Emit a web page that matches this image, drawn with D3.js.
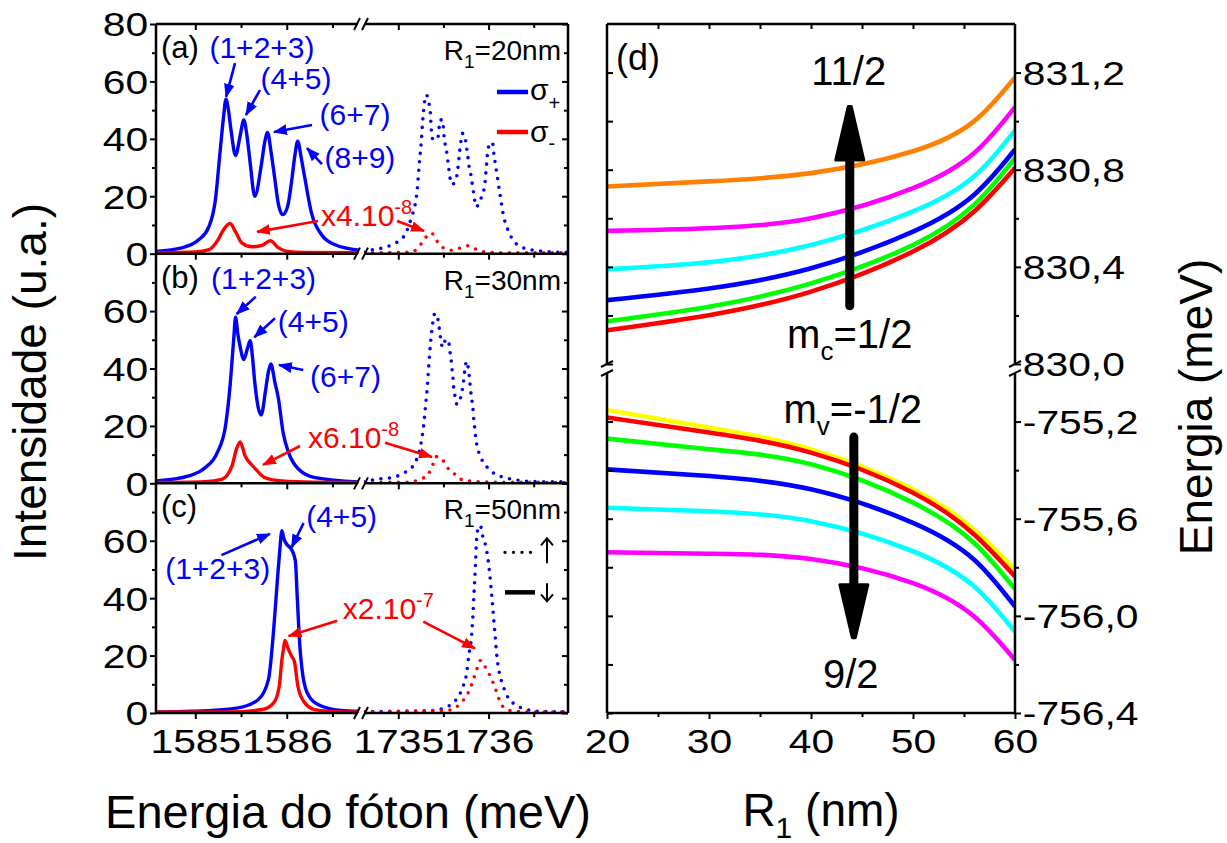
<!DOCTYPE html>
<html>
<head>
<meta charset="utf-8">
<script src="https://cdn.jsdelivr.net/npm/d3@7"></script>
<style>
  body { margin: 0; background: #fff; }
  svg text { font-family: "Liberation Sans", Arial, Helvetica, sans-serif; }
</style>
</head>
<body>
<svg id="chart" width="1227" height="843"></svg>
<script>
// ---------- spectra: [photon energy (meV), intensity (a.u.)] ----------
// solid = spin down (~1585 meV), dotted = spin up (~1735 meV)

// (a) R1 = 20 nm
const aSigPlusDown = [[1584.57,0.8],[1584.85,2.0],[1585.04,4.9],[1585.15,9.5],[1585.22,18.9],[1585.27,35.2],[1585.31,48.0],[1585.335,53.8],[1585.36,50.5],[1585.39,43.2],[1585.44,34.2],[1585.49,41.0],[1585.53,46.6],[1585.565,41.0],[1585.60,31.6],[1585.65,20.0],[1585.725,31.6],[1585.76,39.0],[1585.79,42.2],[1585.83,35.0],[1585.87,25.9],[1585.91,17.0],[1585.956,13.6],[1586.01,16.5],[1586.055,25.7],[1586.09,34.5],[1586.12,39.2],[1586.16,33.0],[1586.20,25.9],[1586.27,14.2],[1586.38,6.6],[1586.53,3.1],[1586.79,1.2]];
const aSigMinusDown = [[1584.57,0.3],[1585.0,0.6],[1585.15,1.4],[1585.25,4.9],[1585.31,8.4],[1585.38,10.5],[1585.44,7.6],[1585.51,3.7],[1585.62,2.4],[1585.73,2.9],[1585.82,4.5],[1585.91,2.0],[1586.01,0.8],[1586.2,0.4],[1586.79,0.3]];
const aSigPlusUp = [[1734.62,0.6],[1734.72,1.4],[1734.83,2.0],[1734.93,3.1],[1735.0,4.3],[1735.08,7.0],[1735.15,13.0],[1735.19,17.7],[1735.21,22.4],[1735.23,30.5],[1735.255,39.2],[1735.27,46.2],[1735.29,52.6],[1735.31,55.3],[1735.34,52.4],[1735.355,49.1],[1735.365,43.3],[1735.384,39.8],[1735.435,40.0],[1735.465,46.6],[1735.49,46.6],[1735.51,39.8],[1735.53,36.6],[1735.557,30.3],[1735.57,27.0],[1735.595,24.1],[1735.64,25.9],[1735.657,29.0],[1735.68,35.7],[1735.694,39.2],[1735.71,41.9],[1735.74,41.2],[1735.75,38.1],[1735.767,34.9],[1735.779,31.4],[1735.80,28.2],[1735.817,24.7],[1735.834,21.2],[1735.864,16.3],[1735.91,18.9],[1735.945,21.8],[1735.963,25.3],[1735.98,32.3],[1736.01,38.1],[1736.044,38.7],[1736.055,35.7],[1736.07,32.3],[1736.09,28.2],[1736.13,20.0],[1736.17,12.5],[1736.20,9.5],[1736.28,4.3],[1736.35,2.6],[1736.50,1.2],[1736.80,0.5],[1736.88,0.5]];
const aSigMinusUp = [[1734.62,0.3],[1735.0,0.4],[1735.13,0.5],[1735.22,2.0],[1735.29,5.1],[1735.365,7.2],[1735.43,4.3],[1735.50,2.0],[1735.60,1.2],[1735.69,2.0],[1735.78,2.8],[1735.88,1.2],[1735.98,0.5],[1736.2,0.3],[1736.88,0.3]];

// (b) R1 = 30 nm
const bSigPlusDown = [[1584.57,0.8],[1584.93,2.6],[1585.11,5.5],[1585.24,10.7],[1585.33,20.0],[1585.38,34.0],[1585.42,50.3],[1585.44,57.9],[1585.465,52.0],[1585.49,47.6],[1585.53,43.1],[1585.57,47.0],[1585.60,49.7],[1585.625,44.0],[1585.65,35.2],[1585.72,23.8],[1585.77,32.8],[1585.80,39.0],[1585.826,41.6],[1585.87,35.2],[1585.91,29.3],[1585.96,17.7],[1586.02,10.7],[1586.13,4.9],[1586.31,2.0],[1586.79,0.5]];
const bSigMinusDown = [[1584.57,0.3],[1585.1,0.6],[1585.29,1.4],[1585.40,6.0],[1585.45,11.9],[1585.49,14.4],[1585.545,9.5],[1585.62,6.3],[1585.67,4.6],[1585.76,2.0],[1585.95,0.8],[1586.3,0.4],[1586.79,0.3]];
const bSigPlusUp = [[1734.62,0.5],[1734.75,1.4],[1734.93,2.0],[1735.03,3.1],[1735.11,4.6],[1735.19,7.4],[1735.25,13.6],[1735.28,20.0],[1735.30,26.4],[1735.32,33.1],[1735.335,39.8],[1735.35,46.3],[1735.37,52.9],[1735.406,59.2],[1735.44,57.0],[1735.455,53.7],[1735.47,50.3],[1735.49,47.4],[1735.52,49.7],[1735.556,50.0],[1735.568,46.8],[1735.583,43.6],[1735.594,40.2],[1735.605,36.9],[1735.612,33.8],[1735.627,30.5],[1735.65,27.5],[1735.69,29.8],[1735.712,33.1],[1735.726,36.4],[1735.737,39.6],[1735.76,42.5],[1735.778,39.5],[1735.79,36.1],[1735.80,32.8],[1735.812,29.6],[1735.826,26.4],[1735.834,22.9],[1735.845,19.8],[1735.856,16.5],[1735.87,13.4],[1735.90,10.1],[1735.94,7.4],[1736.0,5.1],[1736.08,3.1],[1736.18,2.0],[1736.27,1.4],[1736.49,0.6],[1736.88,0.5]];
const bSigMinusUp = [[1734.62,0.3],[1735.1,0.4],[1735.24,1.4],[1735.33,3.1],[1735.38,6.3],[1735.42,9.3],[1735.48,8.6],[1735.53,6.0],[1735.61,3.7],[1735.68,1.6],[1735.78,0.8],[1736.0,0.4],[1736.88,0.3]];

// (c) R1 = 50 nm
const cSigPlusDown = [[1584.57,0.35],[1584.96,0.6],[1585.45,1.7],[1585.69,4.7],[1585.80,11.7],[1585.857,29.1],[1585.898,46.6],[1585.922,56.0],[1585.947,63.5],[1585.97,60.5],[1586.00,58.8],[1586.04,57.5],[1586.06,56.5],[1586.094,53.0],[1586.114,40.8],[1586.143,23.3],[1586.163,16.3],[1586.224,7.0],[1586.347,2.9],[1586.59,0.9],[1586.79,0.6]];
const cSigMinusDown = [[1584.57,0.35],[1585.37,0.35],[1585.735,1.2],[1585.857,3.5],[1585.918,9.3],[1585.947,18.6],[1585.963,22.1],[1585.98,25.3],[1586.012,22.7],[1586.053,19.8],[1586.082,18.1],[1586.122,9.3],[1586.184,4.1],[1586.306,1.2],[1586.6,0.4],[1586.79,0.35]];
const cSigPlusUp = [[1734.62,0.5],[1735.35,0.8],[1735.527,2.0],[1735.637,4.5],[1735.709,8.6],[1735.757,13.9],[1735.782,20.3],[1735.811,26.7],[1735.826,33.6],[1735.836,40.1],[1735.847,46.5],[1735.857,53.5],[1735.865,59.3],[1735.873,62.8],[1735.91,65.3],[1735.93,62.2],[1735.964,58.7],[1735.983,55.8],[1736.019,46.5],[1736.037,40.1],[1736.055,33.6],[1736.073,26.7],[1736.092,19.7],[1736.12,13.9],[1736.157,9.8],[1736.20,6.3],[1736.273,3.4],[1736.382,1.6],[1736.60,0.5],[1736.88,0.4]];
const cSigMinusUp = [[1734.62,0.3],[1735.56,1.0],[1735.69,3.4],[1735.78,7.4],[1735.83,11.5],[1735.87,15.3],[1735.91,18.3],[1735.96,16.2],[1736.02,12.7],[1736.06,9.8],[1736.10,6.3],[1736.13,3.6],[1736.22,1.0],[1736.40,0.4],[1736.88,0.3]];

// ---------- (d) levels vs. R1 ----------
const radiusNm = [20, 30, 40, 50, 56, 60];
// conduction band, m_c = 1/2 ... 11/2 (meV)
const cond_1_2  = [830.139, 830.201, 830.298, 830.463, 830.628, 830.807];
const cond_3_2  = [830.176, 830.236, 830.332, 830.490, 830.656, 830.848];
const cond_5_2  = [830.263, 830.311, 830.394, 830.545, 830.697, 830.883];
const cond_7_2  = [830.390, 830.419, 830.490, 830.628, 830.773, 830.962];
const cond_9_2  = [830.548, 830.559, 830.600, 830.724, 830.869, 831.058];
const cond_11_2 = [830.731, 830.752, 830.786, 830.876, 831.000, 831.180];
// valence band, m_v = -1/2 ... 9/2 (meV)
const val_m1_2 = [-755.152, -755.224, -755.314, -755.479, -755.645, -755.810];
const val_1_2  = [-755.183, -755.245, -755.328, -755.493, -755.665, -755.838];
const val_3_2  = [-755.270, -755.314, -755.376, -755.534, -755.700, -755.890];
const val_5_2  = [-755.397, -755.424, -755.479, -755.617, -755.769, -755.962];
const val_7_2  = [-755.555, -755.569, -755.610, -755.734, -755.879, -756.065];
const val_9_2  = [-755.738, -755.744, -755.766, -755.865, -756.003, -756.182];

// ---------- axis settings ----------
const loDomain = [1584.57, 1586.79];
const hiDomain = [1734.62, 1736.88];
const loTicks = [1585, 1586], loMinor = [1585.5, 1586.5];
const hiTicks = [1735, 1736], hiMinor = [1735.5, 1736.5];
const intensityDomain = [0, 80];
const rDomain = [20, 60];
const rTicks = [20, 30, 40, 50, 60], rMinor = [25, 35, 45, 55];
const condDomain = [830.0, 831.4];
const valDomain = [-756.4, -755.0];
const condTicks = [830.0, 830.4, 830.8, 831.2], condMinor = [830.2, 830.6, 831.0];
const valTicks = [-756.4, -756.0, -755.6, -755.2], valMinor = [-756.2, -755.8, -755.4];

const BLUE = "#0000ff", RED = "#ff0000", BLACK = "#000";

// ---------- geometry ----------
const svg = d3.select("#chart");
const defs = svg.append("defs");
const LX0 = 156, LXB0 = 359, LXB1 = 364, LX1 = 568;
const TOP = 24, BOTTOM = 713;
const PH = (BOTTOM - TOP) / 3;
const DX0 = 607, DX1 = 1015, DGAP0 = 364, DGAP1 = 373;

const xLo = d3.scaleLinear().domain(loDomain).range([LX0, LXB0]);
const xHi = d3.scaleLinear().domain(hiDomain).range([LXB1, LX1]);
const xR = d3.scaleLinear().domain(rDomain).range([DX0, DX1]);
const yCond = d3.scaleLinear().domain(condDomain).range([DGAP0, TOP]);
const yVal = d3.scaleLinear().domain(valDomain).range([BOTTOM, DGAP1]);

const TICK_FONT = 34, TICK_STRETCH = 1.2;

[["blue", BLUE], ["red", RED]].forEach(([k, c]) => {
  defs.append("marker").attr("id", "head-" + k)
    .attr("viewBox", "0 0 13 10").attr("refX", 12).attr("refY", 5)
    .attr("markerWidth", 14).attr("markerHeight", 11)
    .attr("markerUnits", "userSpaceOnUse").attr("orient", "auto")
    .append("path").attr("d", "M0,0 L13,5 L0,10 Z").attr("fill", c);
});

function styleAxis(g) {
  g.select(".domain").remove();
  g.selectAll(".tick line").attr("stroke", BLACK).attr("stroke-width", 2);
  g.selectAll(".tick text").attr("fill", BLACK).attr("font-size", TICK_FONT)
    .attr("font-family", "'Liberation Sans', Arial, sans-serif");
  return g;
}

function spectrum(g, data, x, y, color, dotted) {
  const line = d3.line().x(d => x(d[0])).y(d => y(d[1])).curve(d3.curveMonotoneX);
  g.append("path").attr("d", line(data)).attr("fill", "none").attr("stroke", color)
    .attr("stroke-width", dotted ? 3.6 : 3.4)
    .attr("stroke-dasharray", dotted ? "0 8.6" : null)
    .attr("stroke-linecap", "round").attr("stroke-linejoin", "round");
}

function arrow(g, x1, y1, x2, y2, key) {
  const c = key === "blue" ? BLUE : RED;
  g.append("line").attr("x1", x1).attr("y1", y1).attr("x2", x2).attr("y2", y2)
    .attr("stroke", c).attr("stroke-width", 2.6).attr("marker-end", `url(#head-${key})`);
}

function multiplier(g, x, y, base, exp) {
  const t = g.append("text").attr("x", x).attr("y", y).attr("fill", RED).attr("font-size", 30);
  t.append("tspan").text(base);
  t.append("tspan").attr("dy", -12).attr("font-size", 20).text(exp);
}

// ---------- left column: spectra ----------
const panels = [
  { tag: "(a)", radius: "20", down: [aSigPlusDown, aSigMinusDown], up: [aSigPlusUp, aSigMinusUp],
    labels: [["(1+2+3)", 1585.729, 68.2], ["(4+5)", 1586.101, 57.2], ["(6+7)", 1586.746, 44.8], ["(8+9)", 1586.80, 29.8]],
    arrows: [["lo", 1585.434, 66.4, 1585.336, 54.6, "blue"], ["lo", 1585.707, 57.0, 1585.554, 48.3, "blue"],
             ["lo", 1586.276, 44.8, 1585.860, 42.4, "blue"], ["lo", 1586.385, 31.2, 1586.221, 36.8, "blue"],
             ["lo", 1586.342, 11.4, 1585.675, 7.6, "red"], ["hi", 1734.986, 11.4, 1735.285, 7.9, "red"]],
    mult: ["x4.10", "-8", 1586.374, 9.6] },
  { tag: "(b)", radius: "30", down: [bSigPlusDown, bSigMinusDown], up: [bSigPlusUp, bSigMinusUp],
    labels: [["(1+2+3)", 1585.746, 67.7], ["(4+5)", 1586.29, 52.8], ["(6+7)", 1586.642, 33.4]],
    arrows: [["lo", 1585.661, 65.0, 1585.452, 59.0, "blue"], ["lo", 1585.871, 57.5, 1585.645, 50.9, "blue"],
             ["lo", 1586.18, 39.5, 1585.915, 41.2, "blue"],
             ["lo", 1586.145, 13.0, 1585.74, 6.4, "red"], ["hi", 1734.853, 14.1, 1735.373, 9.2, "red"]],
    mult: ["x6.10", "-8", 1586.232, 12.3] },
  { tag: "(c)", radius: "50", down: [cSigPlusDown, cSigMinusDown], up: [cSigPlusUp, cSigMinusUp],
    labels: [["(4+5)", 1586.6, 64.7], ["(1+2+3)", 1585.245, 46.6]],
    arrows: [["lo", 1586.184, 66.2, 1586.053, 57.7, "blue"], ["lo", 1585.286, 55.0, 1585.816, 62.4, "blue"],
             ["lo", 1586.551, 32.1, 1586.02, 26.8, "red"], ["hi", 1735.277, 31.8, 1735.85, 22.5, "red"]],
    mult: ["x2.10", "-7", 1586.612, 32.6] }
];

panels.forEach((p, k) => {
  const top = TOP + k * PH, bot = top + PH;
  const y = d3.scaleLinear().domain(intensityDomain).range([bot, top]);
  const g = svg.append("g");

  defs.append("clipPath").attr("id", "lo" + k).append("rect")
    .attr("x", LX0).attr("y", top).attr("width", LXB0 - LX0).attr("height", PH);
  defs.append("clipPath").attr("id", "hi" + k).append("rect")
    .attr("x", LXB1).attr("y", top).attr("width", LX1 - LXB1).attr("height", PH);

  const gLo = g.append("g").attr("clip-path", `url(#lo${k})`);
  const gHi = g.append("g").attr("clip-path", `url(#hi${k})`);
  spectrum(gLo, p.down[0], xLo, y, BLUE, false);
  spectrum(gLo, p.down[1], xLo, y, RED, false);
  spectrum(gHi, p.up[0], xHi, y, BLUE, true);
  spectrum(gHi, p.up[1], xHi, y, RED, true);

  // left axis (outward)
  const major = k === 0 ? [0, 20, 40, 60, 80] : [0, 20, 40, 60];
  const la = g.append("g").attr("transform", `translate(${LX0},0)`)
    .call(d3.axisLeft(y).tickValues(major).tickSize(6).tickFormat(d3.format("d")));
  styleAxis(la).selectAll(".tick text").attr("x", -6.6).attr("dy", "0.35em")
    .attr("transform", `scale(${TICK_STRETCH},1)`);
  styleAxis(g.append("g").attr("transform", `translate(${LX0},0)`)
    .call(d3.axisLeft(y).tickValues([10, 30, 50, 70]).tickSize(4).tickFormat("")));
  // right axis (inward)
  styleAxis(g.append("g").attr("transform", `translate(${LX1},0)`)
    .call(d3.axisRight(y).tickValues([0, 20, 40, 60, 80]).tickSize(-6).tickFormat("")));
  styleAxis(g.append("g").attr("transform", `translate(${LX1},0)`)
    .call(d3.axisRight(y).tickValues([10, 30, 50, 70]).tickSize(-4).tickFormat("")));

  // bottom energy ticks, labelled on the last panel
  [[xLo, loTicks, loMinor], [xHi, hiTicks, hiMinor]].forEach(([xs, maj, mnr]) => {
    const ax = g.append("g").attr("transform", `translate(0,${bot})`)
      .call(d3.axisBottom(xs).tickValues(maj).tickSize(6).tickPadding(10)
        .tickFormat(k === 2 ? d3.format("d") : ""));
    styleAxis(ax).selectAll(".tick text").attr("transform", `scale(${TICK_STRETCH},1)`);
    styleAxis(g.append("g").attr("transform", `translate(0,${bot})`)
      .call(d3.axisBottom(xs).tickValues(mnr).tickSize(4).tickFormat("")));
    if (k === 0) {
      styleAxis(g.append("g").attr("transform", `translate(0,${top})`)
        .call(d3.axisTop(xs).tickValues(maj).tickSize(-6).tickFormat("")));
      styleAxis(g.append("g").attr("transform", `translate(0,${top})`)
        .call(d3.axisTop(xs).tickValues(mnr).tickSize(-4).tickFormat("")));
    }
  });

  // annotations
  const xs = s => (s === "lo" ? xLo : xHi);
  p.labels.forEach(([t, e, i]) => {
    g.append("text").attr("x", xLo(e)).attr("y", y(i)).attr("text-anchor", "middle")
      .attr("font-size", 30).attr("fill", BLUE).text(t);
  });
  p.arrows.forEach(([s, e1, i1, e2, i2, key]) => {
    arrow(g, xs(s)(e1), y(i1), xs(s)(e2), y(i2), key);
  });
  multiplier(g, xLo(p.mult[2]), y(p.mult[3]), p.mult[0], p.mult[1]);

  g.append("text").attr("x", LX0 + 5).attr("y", top + 34).attr("font-size", 31).attr("fill", BLACK).text(p.tag);
  const rl = g.append("text").attr("x", LX1 - 7).attr("y", top + 36).attr("text-anchor", "end")
    .attr("font-size", 28).attr("fill", BLACK);
  rl.append("tspan").text("R");
  rl.append("tspan").attr("dy", 8).attr("font-size", 19).text("1");
  rl.append("tspan").attr("dy", -8).text("=" + p.radius + "nm");

  if (k === 0) {
    // polarisation legend
    [[BLUE, "+", 68, 76, 86], [RED, "-", 108, 118, 126]].forEach(([c, sub, ly, ty, sy]) => {
      g.append("line").attr("x1", 497).attr("x2", 528).attr("y1", top + ly).attr("y2", top + ly)
        .attr("stroke", c).attr("stroke-width", 4.5);
      const t = g.append("text").attr("x", 530).attr("y", top + ty).attr("font-size", 30).attr("fill", BLACK);
      t.append("tspan").text("σ");
      t.append("tspan").attr("dy", sy - ty).attr("font-size", 20).text(sub);
    });
  }
  if (k === 2) {
    // spin legend: dotted = up, solid = down
    g.append("line").attr("x1", 505).attr("x2", 534).attr("y1", top + 69).attr("y2", top + 69)
      .attr("stroke", BLACK).attr("stroke-width", 3.4).attr("stroke-dasharray", "0 8.5").attr("stroke-linecap", "round");
    g.append("line").attr("x1", 505).attr("x2", 535).attr("y1", top + 109).attr("y2", top + 109)
      .attr("stroke", BLACK).attr("stroke-width", 4.5);
    const ax = 547;
    g.append("path").attr("d", `M${ax},${top + 80} L${ax},${top + 55} M${ax - 6},${top + 62} L${ax},${top + 55} L${ax + 6},${top + 62}`)
      .attr("fill", "none").attr("stroke", BLACK).attr("stroke-width", 2);
    g.append("path").attr("d", `M${ax},${top + 100} L${ax},${top + 118} M${ax - 6},${top + 111} L${ax},${top + 118} L${ax + 6},${top + 111}`)
      .attr("fill", "none").attr("stroke", BLACK).attr("stroke-width", 2);
  }
});

// left column frame with axis breaks
const frame = svg.append("g").attr("stroke", BLACK).attr("stroke-width", 2.5).attr("fill", "none");
frame.append("line").attr("x1", LX0).attr("x2", LX0).attr("y1", TOP).attr("y2", BOTTOM);
frame.append("line").attr("x1", LX1).attr("x2", LX1).attr("y1", TOP).attr("y2", BOTTOM);
[0, 1, 2, 3].forEach(k => {
  const yy = TOP + k * PH;
  frame.append("line").attr("x1", LX0).attr("x2", LXB0 - 1).attr("y1", yy).attr("y2", yy);
  frame.append("line").attr("x1", LXB1 + 1).attr("x2", LX1).attr("y1", yy).attr("y2", yy);
  frame.append("path").attr("stroke-width", 2)
    .attr("d", `M${LXB0 - 5},${yy + 6} L${LXB0 + 1},${yy - 6} M${LXB1 - 2},${yy + 6} L${LXB1 + 4},${yy - 6}`);
});

// ---------- right column: levels vs R1 ----------
const gd = svg.append("g");
defs.append("clipPath").attr("id", "dUp").append("rect")
  .attr("x", DX0).attr("y", TOP).attr("width", DX1 - DX0).attr("height", DGAP0 - TOP);
defs.append("clipPath").attr("id", "dLow").append("rect")
  .attr("x", DX0).attr("y", DGAP1).attr("width", DX1 - DX0).attr("height", BOTTOM - DGAP1);

const condLevels = [[cond_1_2, "#ff0000"], [cond_3_2, "#00ff00"], [cond_5_2, "#0000ff"],
                    [cond_7_2, "#00ffff"], [cond_9_2, "#ff00ff"], [cond_11_2, "#ff8000"]];
const valLevels = [[val_m1_2, "#ffff00"], [val_1_2, "#ff0000"], [val_3_2, "#00ff00"],
                   [val_5_2, "#0000ff"], [val_7_2, "#00ffff"], [val_9_2, "#ff00ff"]];

function levelLines(clip, levels, yS) {
  const gl = gd.append("g").attr("clip-path", `url(#${clip})`);
  const line = d3.line().x(d => xR(d[0])).y(d => yS(d[1])).curve(d3.curveNatural);
  levels.forEach(([vals, c]) => {
    gl.append("path").attr("d", line(radiusNm.map((r, i) => [r, vals[i]])))
      .attr("fill", "none").attr("stroke", c).attr("stroke-width", 4.6);
  });
}
levelLines("dUp", condLevels, yCond);
levelLines("dLow", valLevels, yVal);

const comma = d => d.toFixed(1).replace(".", ",");
[[yCond, condTicks, condMinor], [yVal, valTicks, valMinor]].forEach(([yS, maj, mnr]) => {
  const ra = gd.append("g").attr("transform", `translate(${DX1},0)`)
    .call(d3.axisRight(yS).tickValues(maj).tickSize(6).tickFormat(comma));
  styleAxis(ra).selectAll(".tick text").attr("x", 6.5).attr("dy", "0.35em")
    .attr("transform", `scale(${TICK_STRETCH},1)`);
  styleAxis(gd.append("g").attr("transform", `translate(${DX1},0)`)
    .call(d3.axisRight(yS).tickValues(mnr).tickSize(4).tickFormat("")));
  styleAxis(gd.append("g").attr("transform", `translate(${DX0},0)`)
    .call(d3.axisRight(yS).tickValues(maj.concat(mnr)).tickSize(6).tickFormat("")));
});
const ba = gd.append("g").attr("transform", `translate(0,${BOTTOM})`)
  .call(d3.axisBottom(xR).tickValues(rTicks).tickSize(6).tickPadding(10).tickFormat(d3.format("d")));
styleAxis(ba).selectAll(".tick text").attr("transform", `scale(${TICK_STRETCH},1)`);
styleAxis(gd.append("g").attr("transform", `translate(0,${BOTTOM})`)
  .call(d3.axisBottom(xR).tickValues(rMinor).tickSize(4).tickFormat("")));
styleAxis(gd.append("g").attr("transform", `translate(0,${TOP})`)
  .call(d3.axisTop(xR).tickValues(rMinor.concat([30, 40, 50])).tickSize(-5).tickFormat("")));

// frame with broken energy axis
const fd = gd.append("g").attr("stroke", BLACK).attr("stroke-width", 2.5).attr("fill", "none");
fd.append("line").attr("x1", DX0).attr("x2", DX1).attr("y1", TOP).attr("y2", TOP);
fd.append("line").attr("x1", DX0).attr("x2", DX1).attr("y1", BOTTOM).attr("y2", BOTTOM);
[DX0, DX1].forEach(xx => {
  fd.append("line").attr("x1", xx).attr("x2", xx).attr("y1", TOP).attr("y2", DGAP0);
  fd.append("line").attr("x1", xx).attr("x2", xx).attr("y1", DGAP1).attr("y2", BOTTOM);
  fd.append("path").attr("stroke-width", 2)
    .attr("d", `M${xx - 6},${DGAP0 + 3} L${xx + 6},${DGAP0 - 3} M${xx - 6},${DGAP1 + 3} L${xx + 6},${DGAP1 - 3}`);
});

// thick arrows: increasing |m|
function bigArrow(r, from, base, tip, yS) {
  const x = xR(r), y0 = yS(from), yb = yS(base), yt = yS(tip);
  gd.append("line").attr("x1", x).attr("x2", x).attr("y1", y0).attr("y2", yb)
    .attr("stroke", BLACK).attr("stroke-width", 9).attr("stroke-linecap", "round");
  gd.append("path").attr("d", `M${x - 14},${yb} L${x + 14},${yb} L${x + 1.5},${yt} L${x - 1.5},${yt} Z`)
    .attr("fill", BLACK).attr("stroke", BLACK).attr("stroke-width", 3).attr("stroke-linejoin", "round");
}
bigArrow(43.8, 830.24, 830.84, 831.06, yCond);
bigArrow(44.2, -755.264, -755.872, -756.09, yVal);

function dText(r, e, yS, parts) {
  const t = gd.append("text").attr("x", xR(r)).attr("y", yS(e)).attr("text-anchor", "middle")
    .attr("font-size", 40).attr("fill", BLACK);
  parts.forEach(([s, dy, fs]) => {
    const sp = t.append("tspan").text(s);
    if (dy) sp.attr("dy", dy);
    if (fs) sp.attr("font-size", fs);
  });
}
dText(43.7, 831.149, yCond, [["11/2"]]);
dText(43.8, 830.066, yCond, [["m"], ["c", 12, 26], ["=1/2", -12]]);
dText(44.1, -755.206, yVal, [["m"], ["v", 12, 26], ["=-1/2", -12]]);
dText(43.9, -756.297, yVal, [["9/2"]]);
gd.append("text").attr("x", DX0 + 9).attr("y", TOP + 46).attr("font-size", 36).attr("fill", BLACK).text("(d)");

// ---------- axis titles ----------
svg.append("text").attr("transform", "translate(46,382) rotate(-90)").attr("text-anchor", "middle")
  .attr("font-size", 46).attr("fill", BLACK).text("Intensidade (u.a.)");
svg.append("text").attr("x", 348).attr("y", 828).attr("text-anchor", "middle")
  .attr("font-size", 47).attr("fill", BLACK).text("Energia do fóton (meV)");
const rt = svg.append("text").attr("x", 821).attr("y", 826).attr("text-anchor", "middle")
  .attr("font-size", 46).attr("fill", BLACK);
rt.append("tspan").text("R");
rt.append("tspan").attr("dy", 12).attr("font-size", 30).text("1");
rt.append("tspan").attr("dy", -12).text(" (nm)");
svg.append("text").attr("transform", "translate(1212,407) rotate(-90)").attr("text-anchor", "middle")
  .attr("font-size", 46).attr("fill", BLACK).text("Energia (meV)");
</script>
</body>
</html>
